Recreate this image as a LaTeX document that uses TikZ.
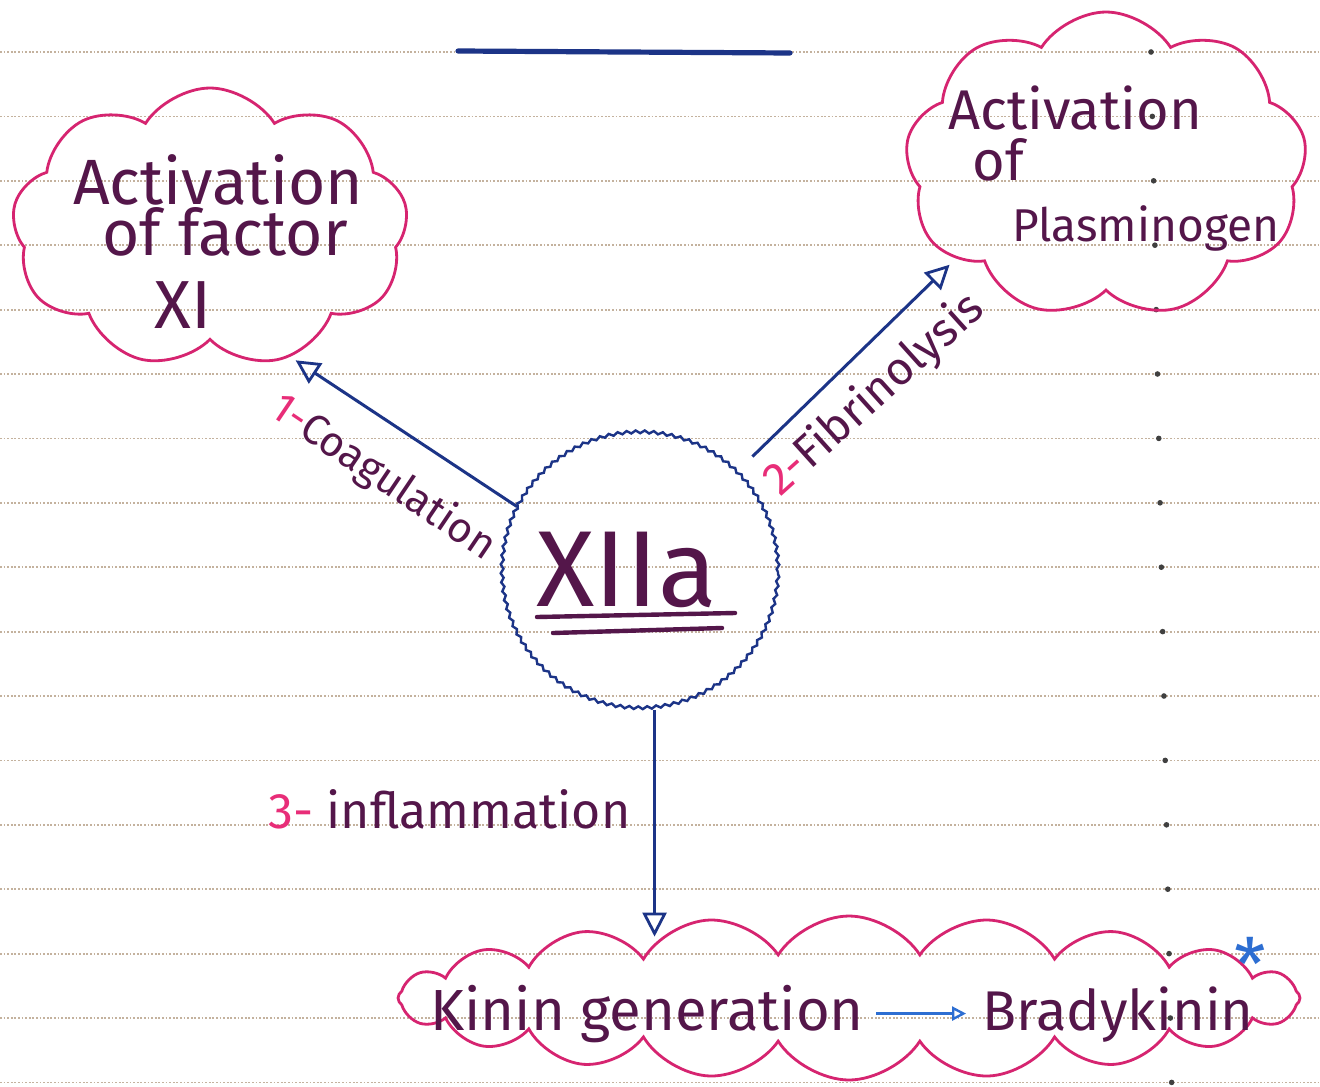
\documentclass[tikz,border=0pt]{standalone}
\usepackage{fontspec}
\setmainfont{Fira Sans}
\usetikzlibrary{shapes.symbols,arrows.meta,decorations.pathmorphing,calc}
\definecolor{cpink}{RGB}{214,36,112}
\definecolor{ink}{RGB}{84,22,74}
\definecolor{pen}{RGB}{28,52,135}
\definecolor{num}{RGB}{232,45,120}
\definecolor{ruleclr}{RGB}{196,178,158}
\definecolor{lblue}{RGB}{45,110,210}
\newcommand{\hfs}[1]{\fontsize{#1}{#1}\selectfont}
\begin{document}
\begin{tikzpicture}[x=0.5pt,y=-0.5pt,
  puff/.style={cloud, draw=cpink, line width=1.4pt, cloud ignores aspect, cloud puff arc=115, inner sep=0pt},
  inktext/.style={text=ink, inner sep=0pt},
  arr/.style={draw=pen, line width=1.5pt, -{Triangle[open,length=12pt,width=12pt,line width=1.4pt]}},
  smallarr/.style={draw=lblue, line width=1.8pt, -{Triangle[open,length=7pt,width=7pt,line width=1.2pt]}},
  ruled/.style={draw=ruleclr, line width=0.9pt, dash pattern=on 0.9pt off 0.9pt},
  wavy/.style={circle, draw=pen, line width=1.2pt, decorate, decoration={snake, amplitude=0.7pt, segment length=4.5pt}}]
\fill[white] (0,0) rectangle (1320,1086);
\useasboundingbox (0,0) rectangle (1320,1086);
% lined paper
\foreach \k in {0,...,16} {
  \draw[ruled] (0,{52+64.4*\k}) -- (1320,{52+64.4*\k});
  \fill[black!75] ({1150+0.02*(52+64.4*\k)},{52+64.4*\k}) circle (1.4pt);
}
% top bar
\draw[pen, line width=2.6pt, line cap=round] (458,51) -- (790,53);
% clouds
\node[puff, cloud puffs=9, minimum width=198pt, minimum height=140pt] (n1) at (210,228) {};
\node[puff, cloud puffs=9, minimum width=201pt, minimum height=153pt] (n2) at (1106,165) {};
\node[puff, cloud puffs=20, minimum width=451pt, minimum height=82pt] (n3) at (849,998) {};
% cloud 1 text
\node[inktext, font=\hfs{32}] (t1a) at (218,180) {Activation};
\node[inktext, font=\hfs{32}] (t1b) at (225,232) {of factor};
\node[inktext, font=\hfs{34}] (t1c) at (183,305) {XI};
% cloud 2 text
\node[inktext, font=\hfs{28}, anchor=west] (t2a) at (948,108) {Activation};
\node[inktext, font=\hfs{28}, anchor=west] (t2b) at (972,160) {of};
\node[inktext, font=\hfs{23}, anchor=west] (t2c) at (1012,228) {Plasminogen};
% centre
\node[wavy, minimum size=138pt] (c) at (640,572) {};
\node[inktext, font=\hfs{54}] (xt) at (627,570) {XIIa};
\draw[ink, line width=2.2pt, line cap=round] (537,617) -- (735,613);
\draw[ink, line width=2.2pt, line cap=round] (553,633) -- (722,628);
% bottom cloud text
\node[inktext, font=\hfs{29}, anchor=base] (kg) at (647,1030) {Kinin generation};
\node[inktext, font=\hfs{28}, anchor=base] (bk) at (1118,1030) {Bradykinin};
\node[text=lblue, font=\hfs{36}, inner sep=0pt] (ast) at (1250,964) {*};
\draw[smallarr, shorten <=6pt, shorten >=8pt] (kg.east) -- (kg.east -| bk.west);
% connectors
\draw[arr, shorten >=3pt] (c.152) -- (n1.-58);
\draw[arr, shorten <=11pt, shorten >=4pt] (c.46) -- (n2.212);
\draw[arr, shorten >=-11pt] (c.-84) -- (c.-84 |- n3.north);
% labels
\node[inktext, rotate=-34, font=\hfs{21}] (l1) at (383,478) {\textcolor{num}{1-}Coagulation};
\node[inktext, rotate=42, font=\hfs{23}] (l2) at (875,395) {\textcolor{num}{2-}Fibrinolysis};
\node[inktext, font=\hfs{25}, anchor=base west] (l3) at (268,828) {\textcolor{num}{3-} inflammation};
\end{tikzpicture}
\end{document}
